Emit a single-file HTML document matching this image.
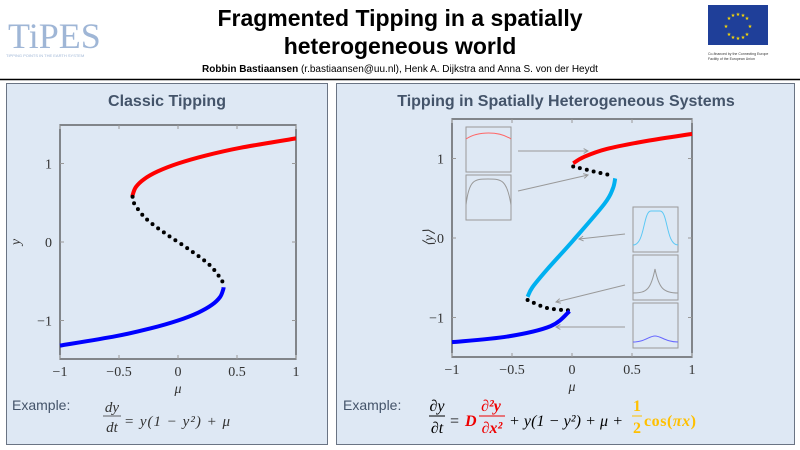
<!DOCTYPE html>
<html><head><meta charset="utf-8"><style>
body{margin:0;width:800px;height:450px;background:#fff;overflow:hidden;font-family:"Liberation Sans",sans-serif;}
svg{position:absolute;left:0;top:0}
</style></head><body>
<svg width="800" height="450" xmlns="http://www.w3.org/2000/svg">
<g>
 <text x="8" y="48" font-family="Liberation Serif,serif" font-size="36" fill="#9fb6d6">TiPES</text>
 <text x="6" y="57" font-size="4" fill="#9fb6d6">TIPPING POINTS IN THE EARTH SYSTEM</text>
 <text x="400" y="26" text-anchor="middle" font-family="Liberation Sans Narrow,Liberation Sans,sans-serif" font-weight="bold" font-size="23" fill="#000">Fragmented Tipping in a spatially</text>
 <text x="400" y="54" text-anchor="middle" font-family="Liberation Sans Narrow,Liberation Sans,sans-serif" font-weight="bold" font-size="23" fill="#000">heterogeneous world</text>
 <text x="400" y="72" text-anchor="middle" font-family="Liberation Sans Narrow,Liberation Sans,sans-serif" font-size="10" fill="#000"><tspan font-weight="bold">Robbin Bastiaansen</tspan> (r.bastiaansen@uu.nl), Henk A. Dijkstra and Anna S. von der Heydt</text>
 <rect x="708" y="5" width="60" height="40" fill="#1f3f99"/>
 <g fill="#ffdd00" font-size="5" text-anchor="middle">
  <text x="738" y="16">★</text><text x="738" y="40">★</text><text x="726" y="28">★</text><text x="750" y="28">★</text>
  <text x="729" y="20">★</text><text x="747" y="20">★</text><text x="729" y="36">★</text><text x="747" y="36">★</text>
  <text x="733" y="17">★</text><text x="743" y="17">★</text><text x="733" y="39">★</text><text x="743" y="39">★</text>
 </g>
 <text x="708" y="55" font-size="3.5" fill="#333">Co-financed by the Connecting Europe</text>
 <text x="708" y="60" font-size="3.5" fill="#333">Facility of the European Union</text>
 <line x1="0" y1="79.5" x2="800" y2="79.5" stroke="#000" stroke-width="1.5"/>
</g>
<rect x="6.5" y="83.5" width="321" height="361" fill="#dee8f4" stroke="#6a7484"/>
<rect x="336.5" y="83.5" width="458" height="361" fill="#dee8f4" stroke="#6a7484"/>
<text x="167" y="106" text-anchor="middle" font-weight="bold" font-size="16" fill="#44546a">Classic Tipping</text>
<text x="566" y="106" text-anchor="middle" font-weight="bold" font-size="16" fill="#44546a">Tipping in Spatially Heterogeneous Systems</text>
<g id="L"></g>
<g id="R"></g>
<text x="12" y="410" font-size="14" fill="#44546a">Example:</text>
<g font-family="Liberation Serif,serif" font-style="italic" font-size="15" fill="#333">
 <text x="112" y="412" text-anchor="middle">dy</text>
 <line x1="103" y1="416" x2="121" y2="416" stroke="#333" stroke-width="0.8"/>
 <text x="112" y="432" text-anchor="middle">dt</text>
 <text x="124" y="426" textLength="106">= y(1 − y²) + μ</text>
</g>
<text x="343" y="410" font-size="14" fill="#44546a">Example:</text>
<g font-family="Liberation Serif,serif" font-style="italic" font-size="16">
 <text x="437" y="411" text-anchor="middle" fill="#000">∂y</text>
 <line x1="429" y1="416" x2="445" y2="416" stroke="#000"/>
 <text x="437" y="433" text-anchor="middle" fill="#000">∂t</text>
 <text x="449" y="426" fill="#000">=</text>
 <text x="465" y="426" fill="#e00" font-weight="bold">D</text>
 <text x="491" y="411" text-anchor="middle" fill="#e00" font-weight="bold">∂²y</text>
 <line x1="479" y1="416" x2="505" y2="416" stroke="#e00"/>
 <text x="492" y="433" text-anchor="middle" fill="#e00" font-weight="bold">∂x²</text>
 <text x="509" y="426" fill="#000" textLength="114">+ y(1 − y²) + μ +</text>
 <text x="637" y="411" text-anchor="middle" fill="#ffc000" font-weight="bold" font-style="normal">1</text>
 <line x1="632" y1="416" x2="642" y2="416" stroke="#ffc000"/>
 <text x="637" y="433" text-anchor="middle" fill="#ffc000" font-weight="bold" font-style="normal">2</text>
 <text x="644" y="426" fill="#ffc000" font-weight="bold" font-style="normal" textLength="52">cos(<tspan font-style="italic">πx</tspan>)</text>
</g>
</svg>
<script>
const NS="http://www.w3.org/2000/svg";
// classic tipping data (mu, y)
const classicStableUpperMu=[-0.385,-0.384,-0.357,-0.288,-0.171,0,0.231,0.528,1.0];
const classicStableUpperY=[0.577,0.6,0.7,0.8,0.9,1.0,1.1,1.2,1.32];
const classicUnstableMu=[-0.385,-0.375,-0.273,-0.099,0.099,0.273,0.375,0.385];
const classicUnstableY=[0.577,0.5,0.3,0.1,-0.1,-0.3,-0.5,-0.577];
const classicStableLowerMu=[0.385,0.384,0.357,0.288,0.171,0,-0.231,-0.528,-1.0];
const classicStableLowerY=[-0.577,-0.6,-0.7,-0.8,-0.9,-1.0,-1.1,-1.2,-1.32];
// spatial tipping data (mu, <y>)
const upperMu=[0.01,0.1,0.29,0.62,1.0];
const upperY=[0.94,1.02,1.12,1.22,1.31];
const unstUpMu=[0.01,0.2,0.35];
const unstUpY=[0.9,0.83,0.78];
const middleMu=[0.36,0.34,0.27,0.01,-0.21,-0.33,-0.37];
const middleY=[0.75,0.62,0.43,-0.03,-0.4,-0.62,-0.74];
const unstLoMu=[-0.37,-0.21,-0.03];
const unstLoY=[-0.78,-0.88,-0.91];
const lowerMu=[-0.02,-0.18,-0.54,-1.0];
const lowerY=[-0.92,-1.11,-1.24,-1.31];
const xTicks=[-1,-0.5,0,0.5,1];
const xTickLabels=["−1","−0.5","0","0.5","1"];
const yTicks=[-1,0,1];
const yTickLabels=["−1","0","1"];

function mk(tag,attrs,parent){const e=document.createElementNS(NS,tag);for(const k in attrs)e.setAttribute(k,attrs[k]);parent.appendChild(e);return e;}
function path(pts){
 let d="M"+pts[0][0]+","+pts[0][1];
 for(let i=0;i<pts.length-1;i++){const p0=pts[i-1]||pts[i],p1=pts[i],p2=pts[i+1],p3=pts[i+2]||p2;
  d+=" C"+(p1[0]+(p2[0]-p0[0])/6)+","+(p1[1]+(p2[1]-p0[1])/6)+" "+(p2[0]-(p3[0]-p1[0])/6)+","+(p2[1]-(p3[1]-p1[1])/6)+" "+p2[0]+","+p2[1];}
 return d;}
function chart(g,box,ylab,series){
 const sx=v=>box.x0+(v+1)/2*(box.x1-box.x0);
 const sy=v=>box.y0c-v*box.k;
 const r=mk("rect",{x:box.x0,y:box.t,width:box.x1-box.x0,height:box.b-box.t,fill:"none",stroke:"#444","stroke-width":1.2},g);
 
 
 xTicks.forEach((v,i)=>{
  mk("line",{x1:sx(v),x2:sx(v),y1:box.b,y2:box.b-4,stroke:"#999"},g);
  mk("line",{x1:sx(v),x2:sx(v),y1:box.t,y2:box.t+4,stroke:"#999"},g);
  const t=mk("text",{x:sx(v),y:box.b+17,"text-anchor":"middle","font-family":"Liberation Serif,serif","font-size":14,fill:"#333"},g);
  t.textContent=xTickLabels[i];
  
  
 });
 yTicks.forEach((v,i)=>{
  mk("line",{x1:box.x0,x2:box.x0+4,y1:sy(v),y2:sy(v),stroke:"#999"},g);
  mk("line",{x1:box.x1,x2:box.x1-4,y1:sy(v),y2:sy(v),stroke:"#999"},g);
  const t=mk("text",{x:box.x0-box.tlo,y:sy(v)+5,"text-anchor":"end","font-family":"Liberation Serif,serif","font-size":14,fill:"#333"},g);
  t.textContent=yTickLabels[i];
  
  
 });
 const xt=mk("text",{x:sx(0),y:box.b+34,"text-anchor":"middle","font-family":"Liberation Serif,serif","font-style":"italic","font-size":14,fill:"#333"},g);
 xt.textContent="μ";
 
 
 const yx=box.ylx, yy=sy(0);
 const yt=mk("text",{x:yx,y:yy,"text-anchor":"middle",transform:`rotate(-90 ${yx} ${yy})`,"font-family":"Liberation Serif,serif","font-style":"italic","font-size":14,fill:"#333"},g);
 yt.textContent=ylab;
 
 
 series.forEach(s=>{
  const pts=s.mu.map((m,i)=>[sx(m),sy(s.y[i])]);
  const a={d:path(pts),fill:"none",stroke:s.c,"stroke-width":4,"stroke-linecap":s.dot?"round":"butt"};
  if(s.dot){a["stroke-dasharray"]="0 7";}
  const p=mk("path",a,g);
  
  
 });
 return {sx,sy};
}
chart(document.getElementById("L"),{x0:60,x1:296,t:125,b:359,y0c:242,k:78.5,ylx:20,tlo:8},"y",[
 {mu:classicStableUpperMu,y:classicStableUpperY,c:"#f00",n:"upper-stable-branch"},
 {mu:classicUnstableMu,y:classicUnstableY,c:"#000",dot:1,n:"unstable-branch"},
 {mu:classicStableLowerMu,y:classicStableLowerY,c:"#00f",n:"lower-stable-branch"}]);
const R=document.getElementById("R");
chart(R,{x0:452,x1:692,t:119,b:357,y0c:238,k:79.5,ylx:433,tlo:8},"⟨y⟩",[
 {mu:upperMu,y:upperY,c:"#f00",n:"upper-branch"},
 {mu:unstUpMu,y:unstUpY,c:"#000",dot:1,n:"upper-unstable-branch"},
 {mu:middleMu,y:middleY,c:"#00b0f0",n:"fragmented-branch"},
 {mu:unstLoMu,y:unstLoY,c:"#000",dot:1,n:"lower-unstable-branch"},
 {mu:lowerMu,y:lowerY,c:"#00f",n:"lower-branch"}]);
const insets=[
 {x:466,y:127,c:"#f66",d:"M0,12 C12,4 33,4 45,12",n:"inset-upper"},
 {x:466,y:175,c:"#999",d:"M0,30 C3,5 8,4 22,4 C36,4 41,5 45,30",n:"inset-upper-unstable"},
 {x:633,y:207,c:"#5bc8f5",d:"M0,38 C12,38 10,4 18,4 L27,4 C35,4 33,38 45,38",n:"inset-fragmented"},
 {x:633,y:255,c:"#999",d:"M0,38 C14,38 18,34 22,14 C26,34 31,38 45,38",n:"inset-lower-unstable"},
 {x:633,y:303,c:"#66f",d:"M0,39 C12,39 16,33 22,33 C28,33 33,39 45,39",n:"inset-lower"}];
insets.forEach(s=>{
 const g=mk("g",{transform:`translate(${s.x},${s.y})`},R);
 
 
 mk("rect",{x:0,y:0,width:45,height:45,fill:"none",stroke:"#999"},g);
 mk("path",{d:s.d,fill:"none",stroke:s.c,"stroke-width":1},g);
});
const arrows=[[518,151,588,151],[518,191,588,175],[625,234,579,239],[625,285,556,302],[625,327,556,327]];
arrows.forEach(a=>{
 const l=mk("line",{x1:a[0],y1:a[1],x2:a[2],y2:a[3],stroke:"#999","stroke-width":1},R);
 
 
 const ang=Math.atan2(a[3]-a[1],a[2]-a[0]);
 const p=(t)=>[a[2]-5*Math.cos(ang+t),a[3]-5*Math.sin(ang+t)];
 const p1=p(0.5),p2=p(-0.5);
 mk("path",{d:`M${p1} L${a[2]},${a[3]} L${p2}`,fill:"none",stroke:"#999"},R);
});
</script>
</body></html>
